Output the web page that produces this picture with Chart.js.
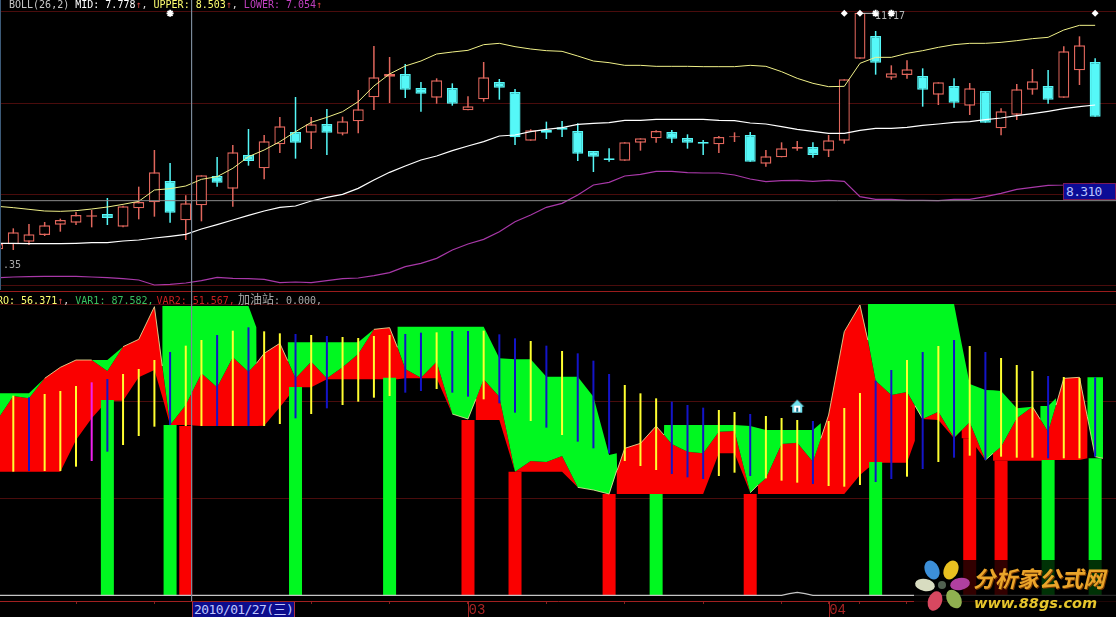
<!DOCTYPE html>
<html>
<head>
<meta charset="utf-8">
<script src="https://cdn.jsdelivr.net/npm/chart.js@4"></script>
<style>
html, body { margin: 0; background: #000; overflow: hidden; }
#wrap { position: relative; width: 1116px; height: 617px; overflow: hidden; }
#chart { position: absolute; left: 0; top: 0; }
.txt { position: absolute; white-space: pre; font: 10px/11px "DejaVu Sans Mono", monospace; }
.cjk { font-family: "Noto Sans CJK SC", sans-serif; font-size: 12px; }
.arrow { color: #d04040; }
#priceTag { left: 1063px; top: 183px; width: 53px; height: 17px; box-sizing: border-box; background: #0c0c96; border: 1px solid #7a1a5a; color: #b8c4ff; font: 13px/16px "DejaVu Sans Mono", monospace; letter-spacing: -0.7px; padding-left: 2px; }
#dateTag { left: 192px; top: 602px; width: 103px; height: 15px; box-sizing: border-box; background: #0c0c8c; border-left: 1px solid #b03040; border-right: 1px solid #b03040; color: #c0c8ff; font: 13px/15px "DejaVu Sans Mono", "Noto Sans CJK SC", monospace; letter-spacing: -0.6px; padding-left: 1px; }
#leftEdge { position: absolute; left: 0; top: 0; width: 1px; height: 290px; background: #3c5a78; }
#logo { position: absolute; left: 914px; top: 560px; width: 202px; height: 57px; background: rgba(0,0,0,.8); }
#logoName { position: absolute; left: 59px; top: 3px; font: italic bold 22px/28px "Noto Sans CJK SC", sans-serif; color: #eaa52a; text-shadow: 1px 1px 0 #7a3a00; white-space: pre; }
#logoUrl { position: absolute; left: 60px; top: 34px; font: italic bold 14.5px/18px "DejaVu Sans", sans-serif; color: #e6c52c; white-space: pre; }
</style>
</head>
<body>
<div id="wrap">
<canvas id="chart" width="1116" height="617"></canvas>
<div id="leftEdge"></div>
<div class="txt" style="left:9px;top:-1px"><span style="color:#c8c8c8">BOLL(26,2) </span><span style="color:#fff">MID: 7.778</span><span class="arrow">↑</span><span style="color:#ddd">, </span><span style="color:#ffff70">UPPER: 8.503</span><span class="arrow">↑</span><span style="color:#ddd">, </span><span style="color:#c040c0">LOWER: 7.054</span><span class="arrow">↑</span></div>
<div class="txt" style="left:-3px;top:293px"><span style="color:#ffff70">RO: 56.371</span><span class="arrow">↑</span><span style="color:#ddd">, </span><span style="color:#38c060;margin-right:-3px">VAR1: 87.582, </span><span style="color:#c82020;margin-right:-3px">VAR2: 51.567, </span><span class="cjk" style="color:#a8a8a8">加油站</span><span style="color:#a8a8a8">: 0.000,</span></div>
<div class="txt" style="left:3px;top:259px;color:#a8a8a8">.35</div>
<div class="txt" style="left:875px;top:10px;color:#b8b8b8">11.17</div>
<div class="txt" id="priceTag">8.310</div>
<div class="txt" id="dateTag">2010/01/27(三)</div>
<div id="logo">
  <svg width="58" height="57" style="position:absolute;left:0;top:0">
    <g transform="translate(28,25)">
      <ellipse cx="-10" cy="-15" rx="7" ry="10" fill="#3c8fd8" transform="rotate(-25 -10 -15)"/>
      <ellipse cx="9" cy="-15" rx="7" ry="10" fill="#e8c020" transform="rotate(25 9 -15)"/>
      <ellipse cx="18" cy="-1" rx="10" ry="6" fill="#b040a0" transform="rotate(-10 18 -1)"/>
      <ellipse cx="12" cy="14" rx="7" ry="10" fill="#90b050" transform="rotate(-30 12 14)"/>
      <ellipse cx="-7" cy="16" rx="7" ry="10" fill="#d84860" transform="rotate(20 -7 16)"/>
      <ellipse cx="-17" cy="0" rx="10" ry="6" fill="#d8dcc0" transform="rotate(10 -17 0)"/>
      <circle r="4" fill="#506050"/>
    </g>
  </svg>
  <div id="logoName">分析家公式网</div>
  <div id="logoUrl">www.88gs.com</div>
</div>
</div>
<script>
// candles, first entry is the half hidden one at the left edge (day -1)
const opens = [7.58,7.655,7.695,7.795,7.95,7.98,8.07,8.11,7.92,8.195,8.285,8.605,8.015,8.24,8.68,8.49,8.995,8.795,9.155,9.34,9.33,9.46,9.315,9.5,9.86,10.17,10.21,10.0,9.855,10.0,9.665,9.83,10.09,9.94,9.21,9.37,9.41,9.355,9.055,8.945,8.91,9.18,9.245,9.34,9.25,9.19,9.155,9.26,9.295,8.865,8.96,9.09,9.115,9.06,9.21,10.44,10.78,10.155,10.195,10.18,9.9,10.03,9.735,9.955,9.395,9.6,9.975,10.03,9.855,10.265,10.39];
const closes = [7.66,7.835,7.805,7.94,8.02,8.095,8.09,8.05,8.225,8.29,8.735,8.13,8.27,8.69,8.58,9.035,8.905,9.2,9.425,9.18,9.455,9.33,9.5,9.68,10.16,10.21,9.975,9.915,10.115,9.765,9.725,10.16,10.005,9.26,9.365,9.33,9.375,9.015,8.97,8.92,9.185,9.245,9.355,9.24,9.18,9.165,9.265,9.275,8.895,8.975,9.095,9.115,8.995,9.215,10.13,11.13,10.38,10.22,10.28,9.975,10.085,9.78,9.995,9.48,9.65,9.98,10.1,9.825,10.55,10.64,9.57];
const highs = [7.66,7.895,7.96,7.99,8.04,8.14,8.17,8.35,8.235,8.52,9.07,8.875,8.39,8.69,8.965,9.145,9.385,9.295,9.565,9.865,9.565,9.685,9.57,9.97,10.63,10.465,10.36,10.09,10.145,10.07,9.875,10.39,10.135,9.985,9.38,9.495,9.505,9.47,9.055,9.095,9.185,9.245,9.365,9.37,9.305,9.22,9.28,9.335,9.34,9.07,9.185,9.205,9.185,9.295,10.13,11.13,10.855,10.34,10.415,10.295,10.085,10.145,10.075,9.955,9.695,10.06,10.285,10.27,10.625,10.775,10.445];
const lows = [7.57,7.57,7.645,7.78,7.845,7.945,7.91,7.945,7.91,8.03,8.07,7.98,7.72,8.0,8.52,8.22,8.835,8.63,9.025,8.94,9.085,8.995,9.29,9.32,9.67,9.775,9.85,9.645,9.765,9.735,9.665,9.795,9.825,9.145,9.21,9.235,9.265,8.905,8.74,8.895,8.91,9.06,9.18,9.175,9.09,8.995,9.025,9.19,8.895,8.82,8.96,9.06,8.955,8.965,9.165,10.44,10.2,10.125,10.14,9.72,9.745,9.705,9.595,9.48,9.29,9.52,9.9,9.765,9.855,10.045,9.57];

// bollinger bands, same days as the candles
const bollUpper = [8.225,8.205,8.18,8.155,8.15,8.16,8.185,8.215,8.255,8.3,8.47,8.49,8.53,8.63,8.67,8.795,8.97,9.07,9.195,9.345,9.485,9.56,9.645,9.795,10.03,10.21,10.33,10.405,10.51,10.54,10.565,10.65,10.67,10.62,10.585,10.56,10.55,10.48,10.405,10.38,10.34,10.34,10.325,10.325,10.325,10.32,10.32,10.32,10.34,10.325,10.245,10.145,10.07,10.02,10.025,10.37,10.46,10.46,10.52,10.56,10.61,10.65,10.67,10.67,10.685,10.71,10.74,10.76,10.87,10.94,10.94];
const bollMid = [7.67,7.67,7.665,7.665,7.665,7.67,7.68,7.68,7.705,7.72,7.75,7.775,7.805,7.885,7.95,8.02,8.09,8.155,8.21,8.23,8.305,8.36,8.405,8.495,8.62,8.735,8.83,8.92,8.98,9.06,9.13,9.195,9.28,9.295,9.345,9.38,9.405,9.455,9.47,9.48,9.515,9.515,9.53,9.53,9.53,9.53,9.515,9.51,9.475,9.46,9.42,9.38,9.35,9.32,9.32,9.365,9.395,9.395,9.41,9.44,9.46,9.485,9.495,9.525,9.55,9.585,9.615,9.65,9.69,9.72,9.745];
const bollLower = [7.155,7.165,7.17,7.175,7.175,7.175,7.165,7.155,7.14,7.12,7.045,7.055,7.075,7.11,7.16,7.145,7.14,7.13,7.08,7.09,7.08,7.11,7.14,7.15,7.185,7.23,7.32,7.37,7.445,7.57,7.66,7.73,7.845,7.995,8.095,8.21,8.27,8.395,8.545,8.585,8.68,8.705,8.75,8.75,8.73,8.725,8.725,8.695,8.635,8.595,8.61,8.615,8.6,8.615,8.6,8.37,8.33,8.33,8.315,8.315,8.31,8.33,8.33,8.37,8.42,8.48,8.51,8.54,8.545,8.56,8.57];

// oscillator band: green between top and mid, red between mid and bottom
const bandDay = [-1,0,1,2,3,4,5,6,7,8,9,9.5,9.51,10,11,12,13,14,15,15.5,15.51,16,17,17.5,17.51,18,19,20,21,22,23,24,24.5,24.51,25,26,27,28,29,29.5,29.51,30,31,32,33,34,35,36,37,38,38.49,38.5,38.51,39,40,41,41.5,41.51,42,43,44,45,46,47,47.49,47.5,48,49,50,51,51.5,51.51,52,53,54,54.5,54.51,55,56,57,57.5,57.51,58,59,60,60.49,60.5,61,62,62.49,62.5,63,64,65,65.5,65.51,66,66.5,66.51,67,68,68.5,68.51,69,69.5];
const bandTop = [60.6,60.6,60.6,65.1,68.4,70.6,70.6,70.6,74.6,76.8,86.6,68.8,86.8,86.8,86.8,86.8,86.8,86.8,86.8,80.4,69.6,72.6,75.6,70.4,75.9,75.9,75.9,75.9,75.9,75.9,79.8,80.3,74.4,80.6,80.6,80.6,80.6,80.6,80.6,80.6,80.6,80.6,71.1,70.8,70.8,65.6,65.6,65.6,59.6,42.1,42.6,42.6,37.5,44.1,45.6,50.8,48.1,51.1,51.1,51.1,51.1,51.1,51.1,50.8,50.2,50.2,49.6,49.6,49.6,49.6,51.6,47.1,54.1,79.1,87.1,76.6,87.4,87.4,87.4,87.4,87.4,87.4,87.4,87.4,87.4,75.4,75.4,63.4,61.6,61.5,61.5,61.3,56.1,56.6,52.8,56.8,56.8,59.1,57.1,65.1,65.4,53.6,65.4,65.4,65.4];
const bandMid = [52.8,59.8,59.1,65.1,68.4,70.6,70.6,67.3,74.6,76.8,86.6,68.8,68.8,51.1,57.1,66.6,62.4,71.4,67.1,69.6,69.6,72.6,75.6,70.4,70.4,65.1,70.1,65.1,68.4,72.4,79.8,80.3,74.4,74.4,67.9,65.3,70.1,54.4,52.9,58.8,58.8,64.8,59.6,37.1,40.3,40,41.8,32.4,31.6,30.4,37.5,37.5,37.5,44.1,45.6,50.8,48.1,48.1,45.4,43.1,42.6,49.1,49.3,30.8,33.1,33.1,35.1,45.4,45.8,40.1,47.1,47.1,54.1,79.1,87.1,76.6,76.6,64.4,60.1,61,56.9,56.9,52.9,55.1,47.3,49.6,49.6,51.9,40.6,42.6,42.6,44.6,53.1,56.6,52.8,52.8,49.1,57.1,57.1,65.1,65.4,53.6,53.6,41.6,41.1];
const bandBottom = [37.1,37.1,37.1,37.1,37.1,46.6,53.1,58.4,58.4,65.4,67.6,59.4,59.4,51.1,51.1,50.8,50.8,50.8,50.8,50.8,50.8,50.9,56.4,59.4,59.4,62.4,62.4,64.8,64.8,64.8,64.8,64.8,64.8,64.8,65.1,65.1,65.1,54.4,52.9,58.8,52.6,52.6,52.6,37.1,37.1,37.1,37.1,32.4,31.6,30.4,37.5,30.4,30.4,30.4,30.4,30.4,30.4,30.4,30.4,30.4,30.4,42.6,42.6,30.8,33.1,30.4,30.4,30.4,30.4,30.4,30.4,30.4,30.4,30.4,36.1,38.1,38.1,39.8,39.8,39.8,46.4,56.9,52.9,52.6,47.1,49.6,47.1,47.1,40.6,42.6,40.4,40.4,40.4,40.4,40.4,40.4,40.6,40.6,40.6,40.6,40.6,41.1,53.6,41.6,41.1];

// sticks, day 0 to 69, trend: 1 rising, -1 falling, 0 turning
const stickHigh = [59.9,59.4,60.4,61.3,62.8,63.9,64.9,66.4,67.9,70.6,73,74.9,76.6,78.1,79.4,80.4,79.2,78.6,78.4,78.1,77.8,77.5,77.2,77.8,78.1,78.4,78.8,78.9,79.3,79.3,79.4,78.3,77.1,76.3,74.9,73.3,72.6,70.4,66.4,63.1,60.6,59.1,58.1,57.1,56.3,55.6,55,54.4,53.8,53.2,52.6,52.3,52.3,56.2,60.7,64.4,67.6,70.6,73,74.8,76.6,74.8,73,71.2,69.1,67.3,65.8,65.5,65.2,65.4];
const stickLow = [37.1,37.3,37.3,37.3,38.6,40.3,43.1,45.1,47.8,50.6,51.1,50.8,50.8,50.8,50.8,50.8,50.8,51.4,53.1,54.4,56.1,57.1,58.1,59.3,59.8,60.8,61.3,61.9,60.8,59.6,58.8,57.6,54.8,52.3,50.3,48.1,46.1,44.1,42.6,40.3,38.8,37.6,36.4,35.4,34.9,35.8,36.8,35.8,35.1,34.4,33.8,33.4,32.8,32.6,33.1,34,34.9,35.6,37.9,40,41.3,41.9,40.6,41.6,41.3,41.3,41.1,41.1,41.1,41.6];
const stickTrend = [1,-1,1,1,1,0,-1,1,1,1,-1,1,1,-1,1,-1,1,1,-1,1,-1,1,1,1,1,-1,-1,1,-1,-1,1,-1,-1,1,-1,1,-1,-1,-1,1,1,1,-1,-1,-1,1,1,-1,1,1,1,-1,1,1,1,-1,-1,1,-1,1,-1,1,-1,1,1,1,-1,1,1,-1];

// signal bars
const greenBarDay = [6,10,18,24,41,55,66,69];
const greenBarValue = [58.6,51.1,62.5,65.3,30.4,40,40.6,41.1];
const redBarDay = [11,29,32,38,47,61,63];
const redBarValue = [50.8,52.6,37.1,30.4,30.4,47.1,40.4];

// near-zero line with its one small bump
const zeroDay = [-1,49,49.5,50,50.5,51,71];
const zeroValue = [0,0,0.5,0.9,0.5,0,0];

// markers and cursor
const diamondDay = [53,54,69];
const starDay = [10,55,56];
const markPrice = 11.12;
const houseDay = 50;
const houseValue = 56.6;
const cursorDay = 11.37;
const cursorPrice = 8.31;

// axes
const tickDays = [4,9,19,24,29,34,39,44,49,52,54,57];
const monthDays = [29,52];
const monthNames = ['03','04'];
const priceLines = [11.1475,9.7675,8.4025,7.045];
const panelLine = 6.955;
const oscLines = [87.3,58.1,29];

const candleDay = opens.map((_, i) => i - 1);
const isUp = i => closes[i] >= opens[i];
const CANDLE_RED = '#e0665c';
const CANDLE_CYAN = '#55f8f8';
const GRID_DARK = '#4a0c0c';

function makeHouse() {
    const c = document.createElement('canvas');
    c.width = 16; c.height = 16;
    const g = c.getContext('2d');
    g.fillStyle = '#70e0ee';
    g.beginPath();
    g.moveTo(8, 1); g.lineTo(15, 8); g.lineTo(13, 8); g.lineTo(13, 14); g.lineTo(3, 14); g.lineTo(3, 8); g.lineTo(1, 8);
    g.closePath(); g.fill();
    g.fillStyle = '#ffffff';
    g.fillRect(5, 7, 6, 6);
    g.fillStyle = '#1a7090';
    g.fillRect(7, 9, 2, 4);
    return c;
}

const monthTicks = {
    id: 'monthTicks',
    afterDatasetsDraw(chart) {
        const { ctx, scales: { x }, chartArea } = chart;
        ctx.save();
        ctx.strokeStyle = '#a02020';
        ctx.lineWidth = 1;
        monthDays.forEach(d => {
            const px = Math.round(x.getPixelForValue(d)) + 0.5;
            ctx.beginPath();
            ctx.moveTo(px, chartArea.bottom);
            ctx.lineTo(px, chart.height);
            ctx.stroke();
        });
        ctx.restore();
    }
};

const line = (label, day, values, color, width, order, axis) => ({
    type: 'line', label, yAxisID: axis,
    data: day.map((d, i) => ({ x: d, y: values[i] })),
    borderColor: color, borderWidth: width, pointRadius: 0, tension: 0, order, fill: false
});
const bars = (label, day, values, color, thickness, order, axis) => ({
    type: 'bar', label, yAxisID: axis,
    data: day.map((d, i) => ({ x: d, y: values[i] })),
    backgroundColor: color, barThickness: thickness, grouped: false, inflateAmount: 0, order
});

const edgeValues = bandMid.map((m, i) => (m === bandTop[i] || m === bandBottom[i]) ? m : null);

const datasets = [
    // band, the three have to stay next to each other for the +1 fills
    Object.assign(line('bandTop', bandDay, bandTop, 'rgba(0,0,0,0)', 0, 9, 'yOsc'),
        { fill: { target: '+1', above: '#00f820', below: '#00f820' } }),
    Object.assign(line('bandMid', bandDay, bandMid, 'rgba(0,0,0,0)', 0, 9, 'yOsc'),
        { fill: { target: '+1', above: '#fa0000', below: '#fa0000' } }),
    line('bandBottom', bandDay, bandBottom, 'rgba(0,0,0,0)', 0, 9, 'yOsc'),
    Object.assign(line('edge', bandDay, edgeValues, '#f4f0a0', 0.8, 6, 'yOsc'), { spanGaps: false }),
    bars('greenBars', greenBarDay, greenBarValue, '#00f820', 13, 8, 'yOsc'),
    bars('redBars', redBarDay, redBarValue, '#fa0000', 13, 8, 'yOsc'),
    Object.assign(bars('sticks', stickHigh.map((_, i) => i), stickHigh.map((h, i) => [stickLow[i], h]),
        stickTrend.map(t => t > 0 ? '#ffff30' : t < 0 ? '#1414c8' : '#f020f0'), 2, 5, 'yOsc')),
    line('zero', zeroDay, zeroValue, '#c4c4c4', 1.2, 5, 'yOsc'),

    // price panel
    Object.assign(bars('wicks', candleDay, lows.map((l, i) => [l, highs[i]]),
        opens.map((_, i) => isUp(i) ? CANDLE_RED : CANDLE_CYAN), 1.5, 4, 'y')),
    Object.assign(bars('bodies', candleDay, opens.map((o, i) => [Math.min(o, closes[i]), Math.max(o, closes[i])]),
        opens.map((_, i) => isUp(i) ? '#000000' : CANDLE_CYAN), 11, 3, 'y'),
        { borderColor: opens.map((_, i) => isUp(i) ? CANDLE_RED : CANDLE_CYAN), borderWidth: 1.4, borderSkipped: false }),
    line('upper', candleDay, bollUpper, '#f0f088', 1, 2, 'y'),
    line('mid', candleDay, bollMid, '#ffffff', 1.2, 2, 'y'),
    line('lower', candleDay, bollLower, '#a838a8', 1.2, 2, 'y'),

    // cursor and markers
    line('cursorH', [-1, 71], [cursorPrice, cursorPrice], '#8a8a8a', 1, 1, 'y'),
    line('cursorV', [cursorDay, cursorDay], [11.32, 2.305], '#7a8a9a', 1, 1, 'y'),
    line('highLead', [54, 55], [markPrice, markPrice], '#c8c8c8', 1, 1, 'y'),
    Object.assign(line('diamonds', diamondDay, diamondDay.map(() => markPrice), '#ffffff', 0, 0, 'y'),
        { showLine: false, pointStyle: 'rectRot', pointRadius: 3.5, pointBackgroundColor: '#ffffff', pointBorderWidth: 0 }),
    Object.assign(line('stars', starDay, starDay.map(() => markPrice), '#ffffff', 0, 0, 'y'),
        { showLine: false, pointStyle: 'star', pointRadius: 3.5, pointBorderColor: '#ffffff', pointBorderWidth: 1.8 }),
    Object.assign(line('house', [houseDay], [houseValue], '#ffffff', 0, 0, 'yOsc'),
        { showLine: false, pointStyle: makeHouse(), pointRadius: 8 })
];

new Chart(document.getElementById('chart'), {
    type: 'bar',
    data: { datasets },
    options: {
        responsive: false,
        animation: false,
        devicePixelRatio: 1,
        layout: { padding: 0, autoPadding: false },
        plugins: { legend: { display: false }, tooltip: { enabled: false } },
        events: [],
        scales: {
            x: {
                type: 'linear', offset: false,
                min: -0.848, max: 70.33,
                afterBuildTicks: a => { a.ticks = tickDays.map(value => ({ value })); },
                afterFit: s => { s.height = 16; },
                border: { color: '#a02020', width: 1 },
                grid: { offset: false, drawOnChartArea: false, tickLength: 3, tickColor: '#802020' },
                ticks: {
                    autoSkip: false, maxRotation: 0, padding: -2, labelOffset: 9,
                    color: '#a82424', font: { family: 'Liberation Mono', size: 14 },
                    callback: v => { const i = monthDays.indexOf(v); return i < 0 ? '' : monthNames[i]; }
                }
            },
            y: {
                min: 2.305, max: 11.32, position: 'left',
                afterBuildTicks: a => { a.ticks = priceLines.concat(panelLine).map(value => ({ value })); },
                border: { display: false },
                ticks: { display: false },
                grid: { drawTicks: false, lineWidth: 1, color: c => c.tick && c.tick.value === panelLine ? '#9a1c1c' : GRID_DARK }
            },
            yOsc: {
                min: -1.7, max: 178.6, position: 'right',
                afterBuildTicks: a => { a.ticks = oscLines.map(value => ({ value })); },
                border: { display: false },
                ticks: { display: false },
                grid: { drawTicks: false, lineWidth: 1, color: GRID_DARK }
            }
        }
    },
    plugins: [monthTicks]
});
</script>
</body>
</html>
